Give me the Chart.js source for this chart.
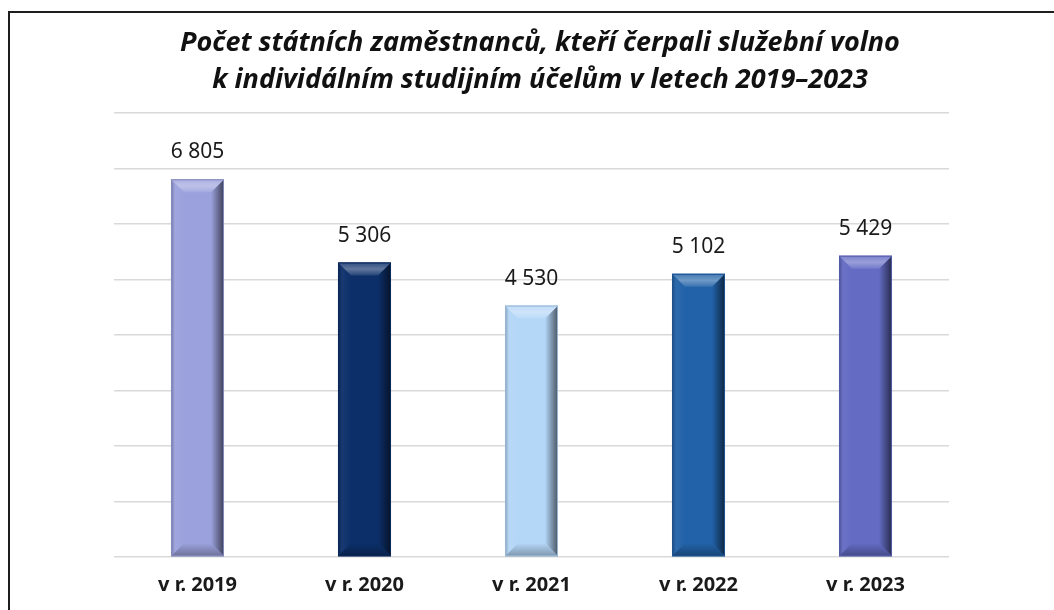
<!DOCTYPE html>
<html>
<head>
<meta charset="utf-8">
<script src="https://cdn.jsdelivr.net/npm/chart.js@4.4.1/dist/chart.umd.min.js"></script>
<style>
  html, body { margin: 0; padding: 0; background: #fff; }
  #wrap { position: relative; width: 1054px; height: 610px; }
</style>
</head>
<body>
<div id="wrap"><canvas id="chart" width="1054" height="610"></canvas></div>
<script>
// data
const years = ['v r. 2019', 'v r. 2020', 'v r. 2021', 'v r. 2022', 'v r. 2023'];
const employees = [6805, 5306, 4530, 5102, 5429];
const barColors = ['#9ba1dc', '#0c2f69', '#b4d6f7', '#2262a8', '#636bc3'];
const yMax = 8000;
const yStep = 1000;
const titleLines = [
  'Počet státních zaměstnanců, kteří čerpali služební volno',
  'k individálním studijním účelům v letech 2019–2023'
];

const FONT = "'Noto Sans', 'DejaVu Sans', sans-serif";

function fmtNum(v) { return String(v).replace(/\B(?=(\d{3})+(?!\d))/g, ' '); }

function mix(hex, target, t) {
  const a = parseInt(hex.slice(1), 16);
  const r = (a >> 16) & 255, g = (a >> 8) & 255, b = a & 255;
  const m = v => Math.round(v + (target - v) * t);
  return `rgb(${m(r)},${m(g)},${m(b)})`;
}

// white page + black frame (clipped on right and bottom like the original) + title
const framePlugin = {
  id: 'frame',
  beforeDraw(chart) {
    const ctx = chart.ctx;
    ctx.save();
    ctx.fillStyle = '#fff';
    ctx.fillRect(0, 0, chart.width, chart.height);
    ctx.strokeStyle = '#1e1e1e';
    ctx.lineWidth = 2;
    ctx.beginPath();
    ctx.moveTo(9, chart.height);
    ctx.lineTo(9, 12);
    ctx.lineTo(chart.width, 12);
    ctx.stroke();
    // title sits a bit right of the plot centre in the original
    ctx.font = `italic bold 27px ${FONT}`;
    ctx.fillStyle = '#111';
    ctx.textAlign = 'center';
    ctx.textBaseline = 'middle';
    titleLines.forEach((line, i) => ctx.fillText(line, 540, 43 + i * 37));
    ctx.restore();
  }
};

// bevel look on every bar, taken from the bar elements themselves
const bevelPlugin = {
  id: 'bevel',
  afterDatasetsDraw(chart) {
    const ctx = chart.ctx;
    const meta = chart.getDatasetMeta(0);
    meta.data.forEach((el, i) => {
      const p = el.getProps(['x', 'y', 'base', 'width'], true);
      const l = p.x - p.width / 2, r = p.x + p.width / 2, t = p.y, b = p.base;
      const col = barColors[i];
      const d = 13;
      ctx.save();
      // right dark edge
      let g = ctx.createLinearGradient(r - d, 0, r, 0);
      g.addColorStop(0, col);
      g.addColorStop(1, mix(col, 0, 0.6));
      ctx.fillStyle = g;
      ctx.beginPath();
      ctx.moveTo(r - d, t + d); ctx.lineTo(r, t); ctx.lineTo(r, b); ctx.lineTo(r - d, b - d); ctx.closePath();
      ctx.fill();
      // left edge
      g = ctx.createLinearGradient(l, 0, l + d, 0);
      g.addColorStop(0, mix(col, 0, 0.25));
      g.addColorStop(0.3, mix(col, 255, 0.05));
      g.addColorStop(1, col);
      ctx.fillStyle = g;
      ctx.beginPath();
      ctx.moveTo(l, t); ctx.lineTo(l + d, t + d); ctx.lineTo(l + d, b - d); ctx.lineTo(l, b); ctx.closePath();
      ctx.fill();
      // top bevel
      g = ctx.createLinearGradient(0, t, 0, t + d);
      g.addColorStop(0, mix(col, 255, 0.15));
      g.addColorStop(0.5, mix(col, 255, 0.35));
      g.addColorStop(1, mix(col, 255, 0.1));
      ctx.fillStyle = g;
      ctx.beginPath();
      ctx.moveTo(l, t); ctx.lineTo(r, t); ctx.lineTo(r - d, t + d); ctx.lineTo(l + d, t + d); ctx.closePath();
      ctx.fill();
      // bottom bevel
      g = ctx.createLinearGradient(0, b - d, 0, b);
      g.addColorStop(0, col);
      g.addColorStop(1, mix(col, 0, 0.3));
      ctx.fillStyle = g;
      ctx.beginPath();
      ctx.moveTo(l + d, b - d); ctx.lineTo(r - d, b - d); ctx.lineTo(r, b); ctx.lineTo(l, b); ctx.closePath();
      ctx.fill();
      // thin outline
      ctx.strokeStyle = mix(col, 0, 0.15);
      ctx.lineWidth = 1;
      ctx.strokeRect(l + 0.5, t + 0.5, p.width - 1, b - t - 1);
      ctx.restore();
    });
  }
};

// value labels above bars
const labelPlugin = {
  id: 'valueLabels',
  afterDatasetsDraw(chart) {
    const ctx = chart.ctx;
    const meta = chart.getDatasetMeta(0);
    ctx.save();
    ctx.font = `21px ${FONT}`;
    ctx.fillStyle = '#1a1a1a';
    ctx.textAlign = 'center';
    ctx.textBaseline = 'middle';
    meta.data.forEach((el, i) => {
      ctx.fillText(fmtNum(employees[i]), el.x, el.y - 27);
    });
    ctx.restore();
  }
};

new Chart(document.getElementById('chart'), {
  type: 'bar',
  data: {
    labels: years,
    datasets: [{
      data: employees,
      backgroundColor: barColors,
      borderWidth: 0,
      barPercentage: 0.635,
      categoryPercentage: 0.5
    }]
  },
  options: {
    responsive: false,
    animation: false,
    events: [],
    layout: { padding: { left: 114, right: 105, top: 113, bottom: 13 } },
    plugins: {
      legend: { display: false },
      tooltip: { enabled: false },
      title: { display: false }
    },
    scales: {
      x: {
        grid: { display: false, drawTicks: false },
        border: { display: false },
        ticks: { color: '#1a1a1a', padding: 16, font: { family: FONT, size: 20, weight: 'bold' } },
        afterFit(scale) { scale.height = 40; }
      },
      y: {
        min: 0,
        max: yMax,
        ticks: { display: false, stepSize: yStep },
        grid: { color: '#d9d9d9', lineWidth: 1.5, drawTicks: false },
        border: { display: false }
      }
    }
  },
  plugins: [framePlugin, bevelPlugin, labelPlugin]
});
</script>
</body>
</html>
